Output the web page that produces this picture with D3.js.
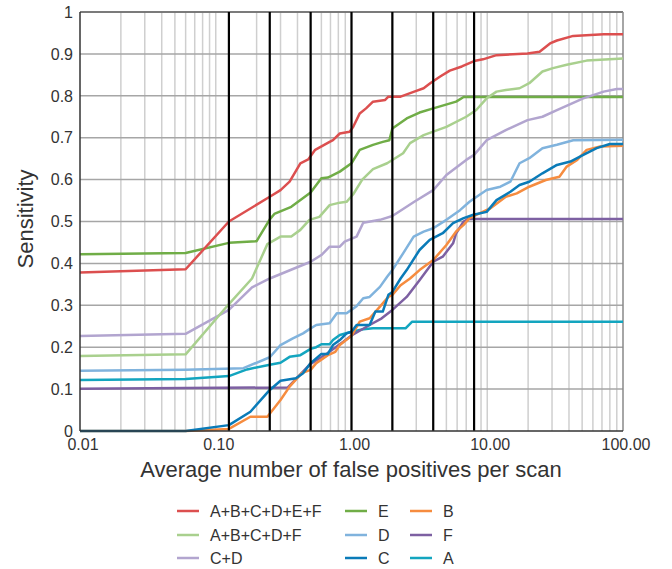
<!DOCTYPE html>
<html>
<head>
<meta charset="utf-8">
<script src="https://cdn.jsdelivr.net/npm/d3@7/dist/d3.min.js"></script>
<style>
  body { margin: 0; background: #fff; }
  text { font-family: "Liberation Sans", Arial, sans-serif; fill: #333; }
</style>
</head>
<body>
<div id="chart"></div>
<script>
// values: [false positives per scan, sensitivity]
var abcdef = [[0.01,0.378],[0.06,0.386],[0.125,0.50],[0.25,0.559],[0.30,0.575],[0.35,0.595],[0.42,0.639],[0.48,0.648],[0.54,0.671],[0.69,0.69],[0.73,0.694],[0.82,0.71],[0.97,0.714],[1.03,0.726],[1.15,0.758],[1.28,0.77],[1.44,0.786],[1.77,0.79],[1.87,0.798],[2.3,0.798],[2.9,0.81],[3.4,0.818],[3.8,0.83],[4.5,0.846],[5.3,0.86],[6.5,0.87],[8.0,0.883],[9.3,0.887],[11.7,0.897],[19.8,0.901],[24.3,0.905],[29,0.925],[32.6,0.932],[43,0.943],[72,0.947],[100,0.947]];
var abcdf = [[0.01,0.179],[0.06,0.183],[0.125,0.303],[0.185,0.364],[0.24,0.446],[0.30,0.464],[0.36,0.464],[0.42,0.48],[0.49,0.504],[0.58,0.511],[0.69,0.539],[0.82,0.545],[0.92,0.547],[1.03,0.565],[1.2,0.6],[1.44,0.625],[1.83,0.639],[2.4,0.663],[2.7,0.687],[3.4,0.706],[5.0,0.726],[7.0,0.75],[8.3,0.766],[9.9,0.794],[11.7,0.81],[13.7,0.814],[17.3,0.818],[20.4,0.83],[25.5,0.858],[30.5,0.866],[38.5,0.874],[54,0.884],[100,0.889]];
var cd = [[0.01,0.227],[0.06,0.232],[0.125,0.289],[0.185,0.343],[0.25,0.364],[0.5,0.404],[0.6,0.42],[0.69,0.44],[0.82,0.44],[0.89,0.452],[1.09,0.464],[1.22,0.497],[1.62,0.504],[2.0,0.513],[2.9,0.547],[4.0,0.575],[5.0,0.611],[7.0,0.647],[8.0,0.659],[9.9,0.694],[13.7,0.718],[19.8,0.742],[25.5,0.75],[32.6,0.766],[51,0.794],[72,0.81],[90,0.816],[100,0.816]];
var e = [[0.01,0.422],[0.06,0.425],[0.125,0.449],[0.2,0.453],[0.25,0.505],[0.27,0.518],[0.36,0.535],[0.5,0.569],[0.6,0.603],[0.67,0.605],[0.82,0.619],[1.0,0.639],[1.15,0.671],[1.44,0.683],[1.7,0.69],[1.9,0.694],[2.0,0.722],[2.55,0.746],[3.17,0.76],[4.0,0.77],[5.9,0.786],[6.7,0.797],[100,0.797]];
var d = [[0.01,0.144],[0.06,0.146],[0.16,0.15],[0.25,0.176],[0.30,0.205],[0.37,0.221],[0.44,0.233],[0.5,0.245],[0.55,0.253],[0.69,0.257],[0.78,0.281],[0.92,0.281],[1.09,0.298],[1.22,0.317],[1.36,0.32],[1.62,0.344],[1.83,0.368],[2.0,0.384],[2.4,0.424],[2.87,0.464],[3.4,0.476],[4.0,0.484],[5.0,0.504],[6.3,0.527],[7.4,0.547],[8.0,0.555],[9.9,0.575],[12.5,0.583],[14.8,0.595],[17.3,0.639],[20.4,0.651],[25.5,0.675],[32.6,0.683],[43,0.694],[100,0.695]];
var c = [[0.01,0],[0.06,0],[0.125,0.014],[0.18,0.046],[0.25,0.098],[0.30,0.12],[0.39,0.126],[0.44,0.138],[0.5,0.162],[0.6,0.184],[0.67,0.184],[0.73,0.205],[0.82,0.217],[0.92,0.233],[1.0,0.237],[1.09,0.253],[1.36,0.253],[1.5,0.285],[1.7,0.285],[1.87,0.325],[2.0,0.332],[2.3,0.364],[2.55,0.384],[3.17,0.432],[3.77,0.456],[4.7,0.472],[5.6,0.496],[6.7,0.508],[7.9,0.516],[9.9,0.523],[11.7,0.551],[14.8,0.571],[17.3,0.587],[20.4,0.595],[25.5,0.615],[32.6,0.635],[41,0.643],[51,0.659],[64,0.675],[80,0.685],[100,0.685]];
var b = [[0.01,0],[0.06,0],[0.125,0.005],[0.18,0.034],[0.24,0.034],[0.30,0.074],[0.35,0.106],[0.43,0.138],[0.5,0.146],[0.55,0.162],[0.67,0.181],[0.76,0.189],[0.82,0.205],[1.0,0.227],[1.15,0.261],[1.36,0.269],[1.62,0.297],[1.87,0.32],[2.0,0.325],[2.3,0.348],[2.7,0.364],[3.17,0.384],[4.0,0.408],[5.0,0.444],[5.9,0.476],[6.7,0.492],[7.4,0.508],[8.3,0.516],[10.5,0.531],[13.7,0.559],[16.5,0.567],[20.4,0.583],[27,0.599],[34,0.607],[38.5,0.631],[46,0.647],[54,0.671],[68,0.679],[100,0.681]];
var f = [[0.01,0.101],[0.34,0.104],[0.49,0.158],[0.66,0.185],[0.87,0.213],[1.0,0.228],[1.36,0.253],[1.67,0.269],[2.0,0.289],[2.55,0.32],[3.17,0.36],[4.0,0.404],[4.7,0.416],[5.6,0.448],[5.9,0.472],[6.7,0.5],[7.2,0.506],[100,0.506]];
var a = [[0.01,0.122],[0.06,0.124],[0.125,0.131],[0.17,0.147],[0.25,0.158],[0.3,0.163],[0.35,0.177],[0.42,0.181],[0.5,0.196],[0.55,0.2],[0.6,0.207],[0.69,0.207],[0.73,0.217],[0.82,0.229],[1.0,0.237],[1.22,0.243],[1.44,0.245],[2.5,0.245],[2.8,0.261],[100,0.261]];

var seriesNames = ["A+B+C+D+E+F", "A+B+C+D+F", "C+D", "E", "D", "C", "B", "F", "A"];
var seriesData = [abcdef, abcdf, cd, e, d, c, b, f, a];
var seriesColors = ["#dc4f4f", "#a9d08e", "#b2a5cf", "#70ad47", "#80b3dd", "#0a7bb8", "#f68c3f", "#7d60a2", "#13a5bf"];

var xTicks = [0.01, 0.1, 1, 10, 100];
var xTickLabels = ["0.01", "0.10", "1.00", "10.00", "100.00"];
var yTicks = [0, 0.1, 0.2, 0.3, 0.4, 0.5, 0.6, 0.7, 0.8, 0.9, 1];
var yTickLabels = ["0", "0.1", "0.2", "0.3", "0.4", "0.5", "0.6", "0.7", "0.8", "0.9", "1"];
var markerLines = [0.125, 0.25, 0.5, 1, 2, 4, 8];

var width = 672, height = 569;
var plotLeft = 80, plotRight = 623, plotTop = 12, plotBottom = 431;

var svg = d3.select("#chart").append("svg")
	.attr("width", width)
	.attr("height", height);

var x = d3.scaleLog().domain([0.01, 100]).range([plotLeft, plotRight]);
var y = d3.scaleLinear().domain([0, 1]).range([plotBottom, plotTop]);

// minor vertical grid (2..9 in every decade)
var minor = [];
for (var p = -2; p < 2; p++) {
	for (var k = 1; k <= 9; k++) {
		if (k == 1 && p == -2) continue;
		minor.push(k * Math.pow(10, p));
	}
}
svg.append("g").selectAll("line")
	.data(minor)
	.enter().append("line")
	.attr("x1", function(v) { return x(v); })
	.attr("x2", function(v) { return x(v); })
	.attr("y1", plotTop)
	.attr("y2", plotBottom)
	.attr("stroke", "#cfcfcf")
	.attr("stroke-width", 1.5);

svg.append("g").selectAll("line")
	.data(yTicks.slice(1))
	.enter().append("line")
	.attr("x1", plotLeft)
	.attr("x2", plotRight)
	.attr("y1", function(v) { return y(v); })
	.attr("y2", function(v) { return y(v); })
	.attr("stroke", "#a6a6a6")
	.attr("stroke-width", 1.5);

// frame
svg.append("line").attr("x1", plotLeft).attr("x2", plotRight).attr("y1", plotTop).attr("y2", plotTop)
	.attr("stroke", "#666").attr("stroke-width", 1.5);
svg.append("line").attr("x1", plotRight).attr("x2", plotRight).attr("y1", plotTop).attr("y2", plotBottom)
	.attr("stroke", "#888").attr("stroke-width", 1.5);

var line = d3.line()
	.x(function(p) { return x(p[0]); })
	.y(function(p) { return y(p[1]); });

// draw back to front, red last
for (var i = seriesData.length - 1; i >= 0; i--) {
	svg.append("path")
		.datum(seriesData[i])
		.attr("d", line)
		.attr("fill", "none")
		.attr("stroke", seriesColors[i])
		.attr("stroke-width", 2.5)
		.attr("stroke-linejoin", "round");
}

svg.append("g").selectAll("line")
	.data(markerLines)
	.enter().append("line")
	.attr("x1", function(v) { return x(v); })
	.attr("x2", function(v) { return x(v); })
	.attr("y1", plotTop)
	.attr("y2", plotBottom)
	.attr("stroke", "#000")
	.attr("stroke-width", 2.2);

// axes
svg.append("line").attr("x1", plotLeft).attr("x2", plotLeft).attr("y1", plotTop).attr("y2", plotBottom)
	.attr("stroke", "#333").attr("stroke-width", 1.5);
svg.append("line").attr("x1", plotLeft).attr("x2", plotRight).attr("y1", plotBottom).attr("y2", plotBottom)
	.attr("stroke", "#333").attr("stroke-width", 1.5);

svg.append("g").selectAll("text")
	.data(yTicks)
	.enter().append("text")
	.attr("x", 73)
	.attr("y", function(v) { return y(v); })
	.attr("dy", "0.36em")
	.attr("text-anchor", "end")
	.attr("font-size", 16)
	.text(function(v, i) { return yTickLabels[i]; });

svg.append("g").selectAll("text")
	.data(xTicks)
	.enter().append("text")
	.attr("x", function(v) { return x(v) + 3; })
	.attr("y", 450)
	.attr("text-anchor", "middle")
	.attr("font-size", 16)
	.text(function(v, i) { return xTickLabels[i]; });

svg.append("text")
	.attr("x", 351)
	.attr("y", 477)
	.attr("text-anchor", "middle")
	.attr("font-size", 22)
	.text("Average number of false positives per scan");

svg.append("text")
	.attr("transform", "translate(33,219) rotate(-90)")
	.attr("text-anchor", "middle")
	.attr("font-size", 22)
	.text("Sensitivity");

// legend, three columns
var legendCols = [[0, 1, 2], [3, 4, 5], [6, 7, 8]];
var legendX = [177, 345, 410];
var legendRows = [511, 535, 558];
for (var col = 0; col < legendCols.length; col++) {
	for (var r = 0; r < legendCols[col].length; r++) {
		var idx = legendCols[col][r];
		svg.append("line")
			.attr("x1", legendX[col])
			.attr("x2", legendX[col] + 22)
			.attr("y1", legendRows[r])
			.attr("y2", legendRows[r])
			.attr("stroke", seriesColors[idx])
			.attr("stroke-width", 2.5);
		svg.append("text")
			.attr("x", legendX[col] + 33)
			.attr("y", legendRows[r])
			.attr("dy", "0.36em")
			.attr("font-size", 16)
			.text(seriesNames[idx]);
	}
}
</script>
</body>
</html>
